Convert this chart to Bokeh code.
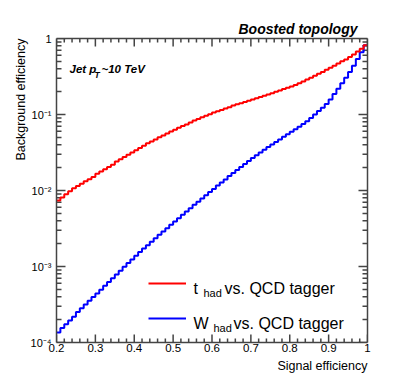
import math
from bokeh.plotting import figure
from bokeh.models import (Range1d, FixedTicker, LinearAxis, LogAxis, Label, Legend, Title,
                          LegendItem, NumeralTickFormatter, CustomJSTickFormatter)
from bokeh.embed import file_html
from bokeh.resources import INLINE

# ---------------- data ----------------
signal_eff_edges = [round(0.20 + 0.01 * i, 2) for i in range(81)]

top_vs_qcd = [0.0074, 0.0081, 0.0089, 0.0098, 0.0107, 0.0115, 0.0123, 0.0132, 0.0141, 0.0151,
              0.0166, 0.0178, 0.0191, 0.0204, 0.0219, 0.0240, 0.0257, 0.0275, 0.0295, 0.0316,
              0.0339, 0.0363, 0.0389, 0.0417, 0.0442, 0.0468, 0.0501, 0.0531, 0.0562, 0.0596,
              0.0631, 0.0668, 0.0708, 0.0741, 0.0785, 0.0832, 0.0871, 0.0920, 0.0962, 0.101,
              0.106, 0.110, 0.115, 0.120, 0.125, 0.131, 0.136, 0.141, 0.146, 0.152,
              0.158, 0.164, 0.170, 0.176, 0.183, 0.191, 0.199, 0.207, 0.216, 0.225,
              0.234, 0.245, 0.258, 0.272, 0.288, 0.305, 0.324, 0.343, 0.363, 0.389,
              0.412, 0.437, 0.468, 0.501, 0.531, 0.569, 0.617, 0.676, 0.733, 0.813]

w_vs_qcd = [1.35e-4, 1.55e-4, 1.74e-4, 1.95e-4, 2.19e-4, 2.51e-4, 2.82e-4, 3.16e-4, 3.55e-4, 3.98e-4,
            4.42e-4, 4.95e-4, 5.56e-4, 6.24e-4, 7.00e-4, 7.85e-4, 8.81e-4, 9.89e-4, 1.11e-3, 1.24e-3,
            1.39e-3, 1.55e-3, 1.72e-3, 1.91e-3, 2.12e-3, 2.36e-3, 2.61e-3, 2.88e-3, 3.19e-3, 3.53e-3,
            3.91e-3, 4.33e-3, 4.79e-3, 5.30e-3, 5.86e-3, 6.47e-3, 7.13e-3, 7.85e-3, 8.65e-3, 9.53e-3,
            1.05e-2, 1.16e-2, 1.27e-2, 1.40e-2, 1.55e-2, 1.70e-2, 1.86e-2, 2.04e-2, 2.24e-2, 2.45e-2,
            2.68e-2, 2.91e-2, 3.16e-2, 3.44e-2, 3.73e-2, 4.04e-2, 4.36e-2, 4.70e-2, 5.08e-2, 5.48e-2,
            5.92e-2, 6.40e-2, 6.92e-2, 7.50e-2, 8.15e-2, 8.97e-2, 9.98e-2, 0.111, 0.123, 0.137,
            0.158, 0.186, 0.219, 0.257, 0.305, 0.363, 0.437, 0.537, 0.661, 0.813]

x_ticks = [0.2, 0.3, 0.4, 0.5, 0.6, 0.7, 0.8, 0.9, 1.0]
y_ticks = [1e-4, 1e-3, 1e-2, 1e-1, 1.0]
y_tick_labels = ["10\u207b\u2074", "10\u207b\u00b3", "10\u207b\u00b2", "10\u207b\u00b9", "1"]

series_labels = [("t", "had", "vs. QCD tagger"), ("W", "had", "vs. QCD tagger")]
title_text = "Boosted topology"
x_title = "Signal efficiency"
y_title = "Background efficiency"

# ---------------- figure ----------------
FONT = "Liberation Sans"
AX = "#444444"
W, H = 399, 382
BL, BR, BT, BB = 56, 32, 38, 40
X0, X1, Y0, Y1 = 0.2, 1.0, 1e-4, 1.0
FRAME_W, FRAME_H = W - BL - BR, H - BT - BB

p = figure(width=W, height=H, x_range=Range1d(X0, X1), y_range=Range1d(Y0, Y1),
           y_axis_type="log", output_backend="svg", toolbar_location=None,
           min_border_left=BL, min_border_right=BR, min_border_top=BT, min_border_bottom=BB)
p.grid.visible = False
p.outline_line_color = None
p.background_fill_color = None
p.border_fill_color = "white"

x_minor = [round(0.2 + 0.02 * i, 2) for i in range(41) if (i % 5) != 0]
y_minor = [k * 10.0 ** e for e in range(-4, 0) for k in range(2, 10)]
xt = FixedTicker(ticks=x_ticks, minor_ticks=[])
yt = FixedTicker(ticks=y_ticks, minor_ticks=[])
blank = CustomJSTickFormatter(code="return ''")


def style(ax):
    ax.axis_line_color = AX
    ax.axis_line_width = 1.5
    ax.major_tick_line_color = None
    ax.minor_tick_line_color = None
    ax.major_tick_in = 0
    ax.major_tick_out = 0
    ax.minor_tick_in = 0
    ax.minor_tick_out = 0


xa = p.xaxis[0]
xa.ticker = xt
xa.formatter = NumeralTickFormatter(format="0.[0]")
xa.major_label_text_font = FONT
xa.major_label_text_font_size = "11.5px"
xa.major_label_text_color = "black"
xa.major_label_standoff = 1
style(xa)

ya = p.yaxis[0]
ya.ticker = yt
ya.major_label_overrides = dict(zip(y_ticks, y_tick_labels))
ya.major_label_text_font = FONT
ya.major_label_text_font_size = "11px"
ya.major_label_text_color = "black"
ya.major_label_standoff = 5
style(ya)

top_ax = LinearAxis(ticker=xt, formatter=blank, major_label_text_font_size="1px", major_label_standoff=0)
style(top_ax)
p.add_layout(top_ax, "above")
right_ax = LogAxis(ticker=yt, formatter=blank, major_label_text_font_size="1px", major_label_standoff=0)
style(right_ax)
p.add_layout(right_ax, "right")

# inward tick marks on all four sides (tick length given in pixels, converted via the frame scale)
dec_px = FRAME_H / (math.log10(Y1) - math.log10(Y0))
x_px = FRAME_W / (X1 - X0)
tick_kw = dict(line_color=AX, line_width=1.5)
for xs, ln in ((x_ticks, 8), (x_minor, 4)):
    n = len(xs)
    p.segment(x0=xs, y0=[Y0] * n, x1=xs, y1=[Y0 * 10 ** (ln / dec_px)] * n, **tick_kw)
    p.segment(x0=xs, y0=[Y1] * n, x1=xs, y1=[Y1 * 10 ** (-ln / dec_px)] * n, **tick_kw)
for ys, ln in ((y_ticks, 9), (y_minor, 5)):
    n = len(ys)
    p.segment(x0=[X0] * n, y0=ys, x1=[X0 + ln / x_px] * n, y1=ys, **tick_kw)
    p.segment(x0=[X1] * n, y0=ys, x1=[X1 - ln / x_px] * n, y1=ys, **tick_kw)

# titles
p.title.text = title_text
p.title.align = "right"
p.title.offset = 10
p.title.standoff = 4
p.title.text_font = FONT
p.title.text_font_size = "14px"
p.title.text_font_style = "bold italic"
p.title.text_color = "black"

xt_title = Title(text=x_title, align="right", standoff=4, text_font=FONT, text_font_size="12.5px",
                 text_font_style="normal", text_color="black")
p.add_layout(xt_title, "below")
yt_title = Title(text=y_title, align="right", standoff=0, text_font=FONT, text_font_size="12.5px",
                 text_font_style="normal", text_color="black")
p.add_layout(yt_title, "left")

# ---------------- curves ----------------
r_w = p.step(signal_eff_edges, w_vs_qcd + [w_vs_qcd[-1]], mode="after",
             line_color="#0000ff", line_width=2)
r_t = p.step(signal_eff_edges, top_vs_qcd + [top_vs_qcd[-1]], mode="after",
             line_color="#ff0000", line_width=2)

legend = Legend(items=[LegendItem(label=" ", renderers=[r_t]), LegendItem(label=" ", renderers=[r_w])],
                location=(92, 14), glyph_width=38, glyph_height=20, label_height=20, label_width=0,
                label_standoff=0, label_text_font_size="1px", padding=0, margin=0, spacing=15,
                border_line_color=None, background_fill_alpha=0)
p.add_layout(legend)


def lab(text, x, y, dx, dy, size, align="left", baseline="alphabetic", style="normal"):
    p.add_layout(Label(x=x, y=y, x_offset=dx, y_offset=dy, text=text, text_font=FONT,
                       text_font_size=f"{size}px", text_align=align, text_baseline=baseline,
                       text_font_style=style, text_color="black"))


# header text inside the frame
lab("Jet p", X0, Y1, 13, -30, 11.5, style="bold italic")
lab("T", X0, Y1, 38, -36, 8.5, style="bold italic")
lab("~10 TeV", X0, Y1, 45, -30, 11.5, style="bold italic")

# legend texts
rows = [(54.5, 137, 147, 168), (19.5, 137, 157, 177)]
for (main, sub, rest), (dy, x_main, x_sub, x_rest) in zip(series_labels, rows):
    lab(main, X0, Y0, x_main, dy, 16)
    lab(sub, X0, Y0, x_sub, dy - 5, 11)
    lab(rest, X0, Y0, x_rest, dy, 16)

open("out.html", "w").write(file_html(p, INLINE))
